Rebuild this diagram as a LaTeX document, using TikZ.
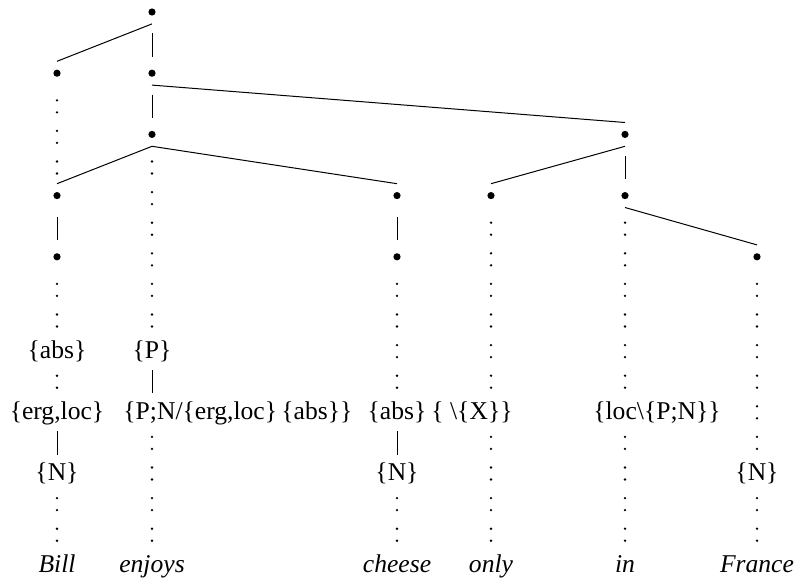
\documentclass[tikz,border=0pt]{standalone}
\usepackage{fontspec}
\setmainfont{Liberation Serif}
\newfontfamily\treefont{Liberation Serif}
\usetikzlibrary{
  decorations.markings,
}
\tikzset{
  knot/.style={
    rectangle, inner sep=0pt, minimum width=5pt, minimum height=11.5pt,
    path picture={\fill (path picture bounding box.center) circle (1.8pt);},
  },
  cat/.style={
    inner sep=0pt, text height=10.5pt, text depth=1pt,
    font=\treefont\fontsize{12.8}{15}\selectfont,
  },
  word/.style={
    cat, font=\treefont\fontsize{12.8}{15}\selectfont\itshape,
  },
  branch/.style={line width=0.5pt},
  bar/.style={line width=0.5pt, shorten <=4.75pt, shorten >=2.25pt},
  assoc/.style={
    decorate, decoration={markings,
      mark=between positions 16.55pt and -5pt step 15.3pt with
        {\fill (-3pt,0pt) circle (0.65pt) (3pt,0pt) circle (0.65pt);}},
  },
}

\begin{document}
\begin{tikzpicture}[x=0.5pt, y=-15.3pt]
\useasboundingbox (0,-0.392) rectangle (798,18.66);
% dependency nodes
\node[knot] (top) at (152,0) {};
\node[knot] (billA) at (57,2) {};
\node[knot] (enjA) at (152,2) {};
\node[knot] (enjB) at (152,4) {};
\node[knot] (pp) at (625,4) {};
\node[knot] (billB) at (57,6) {};
\node[knot] (chA) at (397,6) {};
\node[knot] (onlyA) at (491,6) {};
\node[knot] (inA) at (625,6) {};
\node[knot] (billC) at (57,8) {};
\node[knot] (chB) at (397,8) {};
\node[knot] (frA) at (757,8) {};

% categories
\node[cat] (billAbs) at (57,11) {\{abs\}};
\node[cat] (enjP) at (152,11) {\{P\}};
\node[cat] (billErg) at (57,13) {\{erg,loc\}};
\node[cat, anchor=west] (enjVal) at (123,13) {\{P;N/\{erg,loc\}\,\{abs\}\}};
\node[cat] (chAbs) at (397,13) {\{abs\}};
\node[cat] (onlyX) at (472,13) {\{ \textbackslash\{X\}\}};
\node[cat] (inLoc) at (657,13) {\{loc\textbackslash\{P;N\}\}};
\node[cat] (billN) at (57,15) {\{N\}};
\node[cat] (chN) at (397,15) {\{N\}};
\node[cat] (frN) at (757,15) {\{N\}};

% words
\node[word] (billW) at (57,18) {Bill};
\node[word] (enjW) at (152,18) {enjoys};
\node[word] (chW) at (397,18) {cheese};
\node[word] (onlyW) at (491,18) {only};
\node[word] (inW) at (625,18) {in};
\node[word] (frW) at (757,18) {France};

% dependency arcs
\draw[branch] (top.south) -- (billA.north);
\draw[bar] (top.south) -- (enjA.north);
\draw[branch] (enjA.south) -- (pp.north);
\draw[bar] (enjA.south) -- (enjB.north);
\draw[branch] (enjB.south) -- (billB.north);
\draw[branch] (enjB.south) -- (chA.north);
\draw[branch] (pp.south) -- (onlyA.north);
\draw[bar] (pp.south) -- (inA.north);
\draw[branch] (inA.south) -- (frA.north);
\draw[bar] (billB.south) -- (billC.north);
\draw[bar] (chA.south) -- (chB.north);
\draw[bar] (enjP.south) -- (enjP |- enjVal.north);
\draw[bar] (billErg.south) -- (billN.north);
\draw[bar] (chAbs.south) -- (chN.north);

% association lines
\path[assoc] (billA.center) -- (billB.center);
\path[assoc] (billC.center) -- (billAbs.center);
\path[assoc] (billAbs.center) -- (billErg.center);
\path[assoc] (billN.center) -- (billW.center);
\path[assoc] (enjB.center) -- (enjP.center);
\path[assoc] (enjP.center |- enjVal.center) -- (enjW.center);
\path[assoc] (chB.center) -- (chAbs.center);
\path[assoc] (chN.center) -- (chW.center);
\path[assoc] (onlyA.center) -- (onlyA.center |- onlyX.center);
\path[assoc] (onlyA.center |- onlyX.center) -- (onlyW.center);
\path[assoc] (inA.center) -- (inA.center |- inLoc.center);
\path[assoc] (inA.center |- inLoc.center) -- (inW.center);
\path[assoc] (frA.center) -- (frN.center);
\path[assoc] (frN.center) -- (frW.center);
\end{tikzpicture}
\end{document}
